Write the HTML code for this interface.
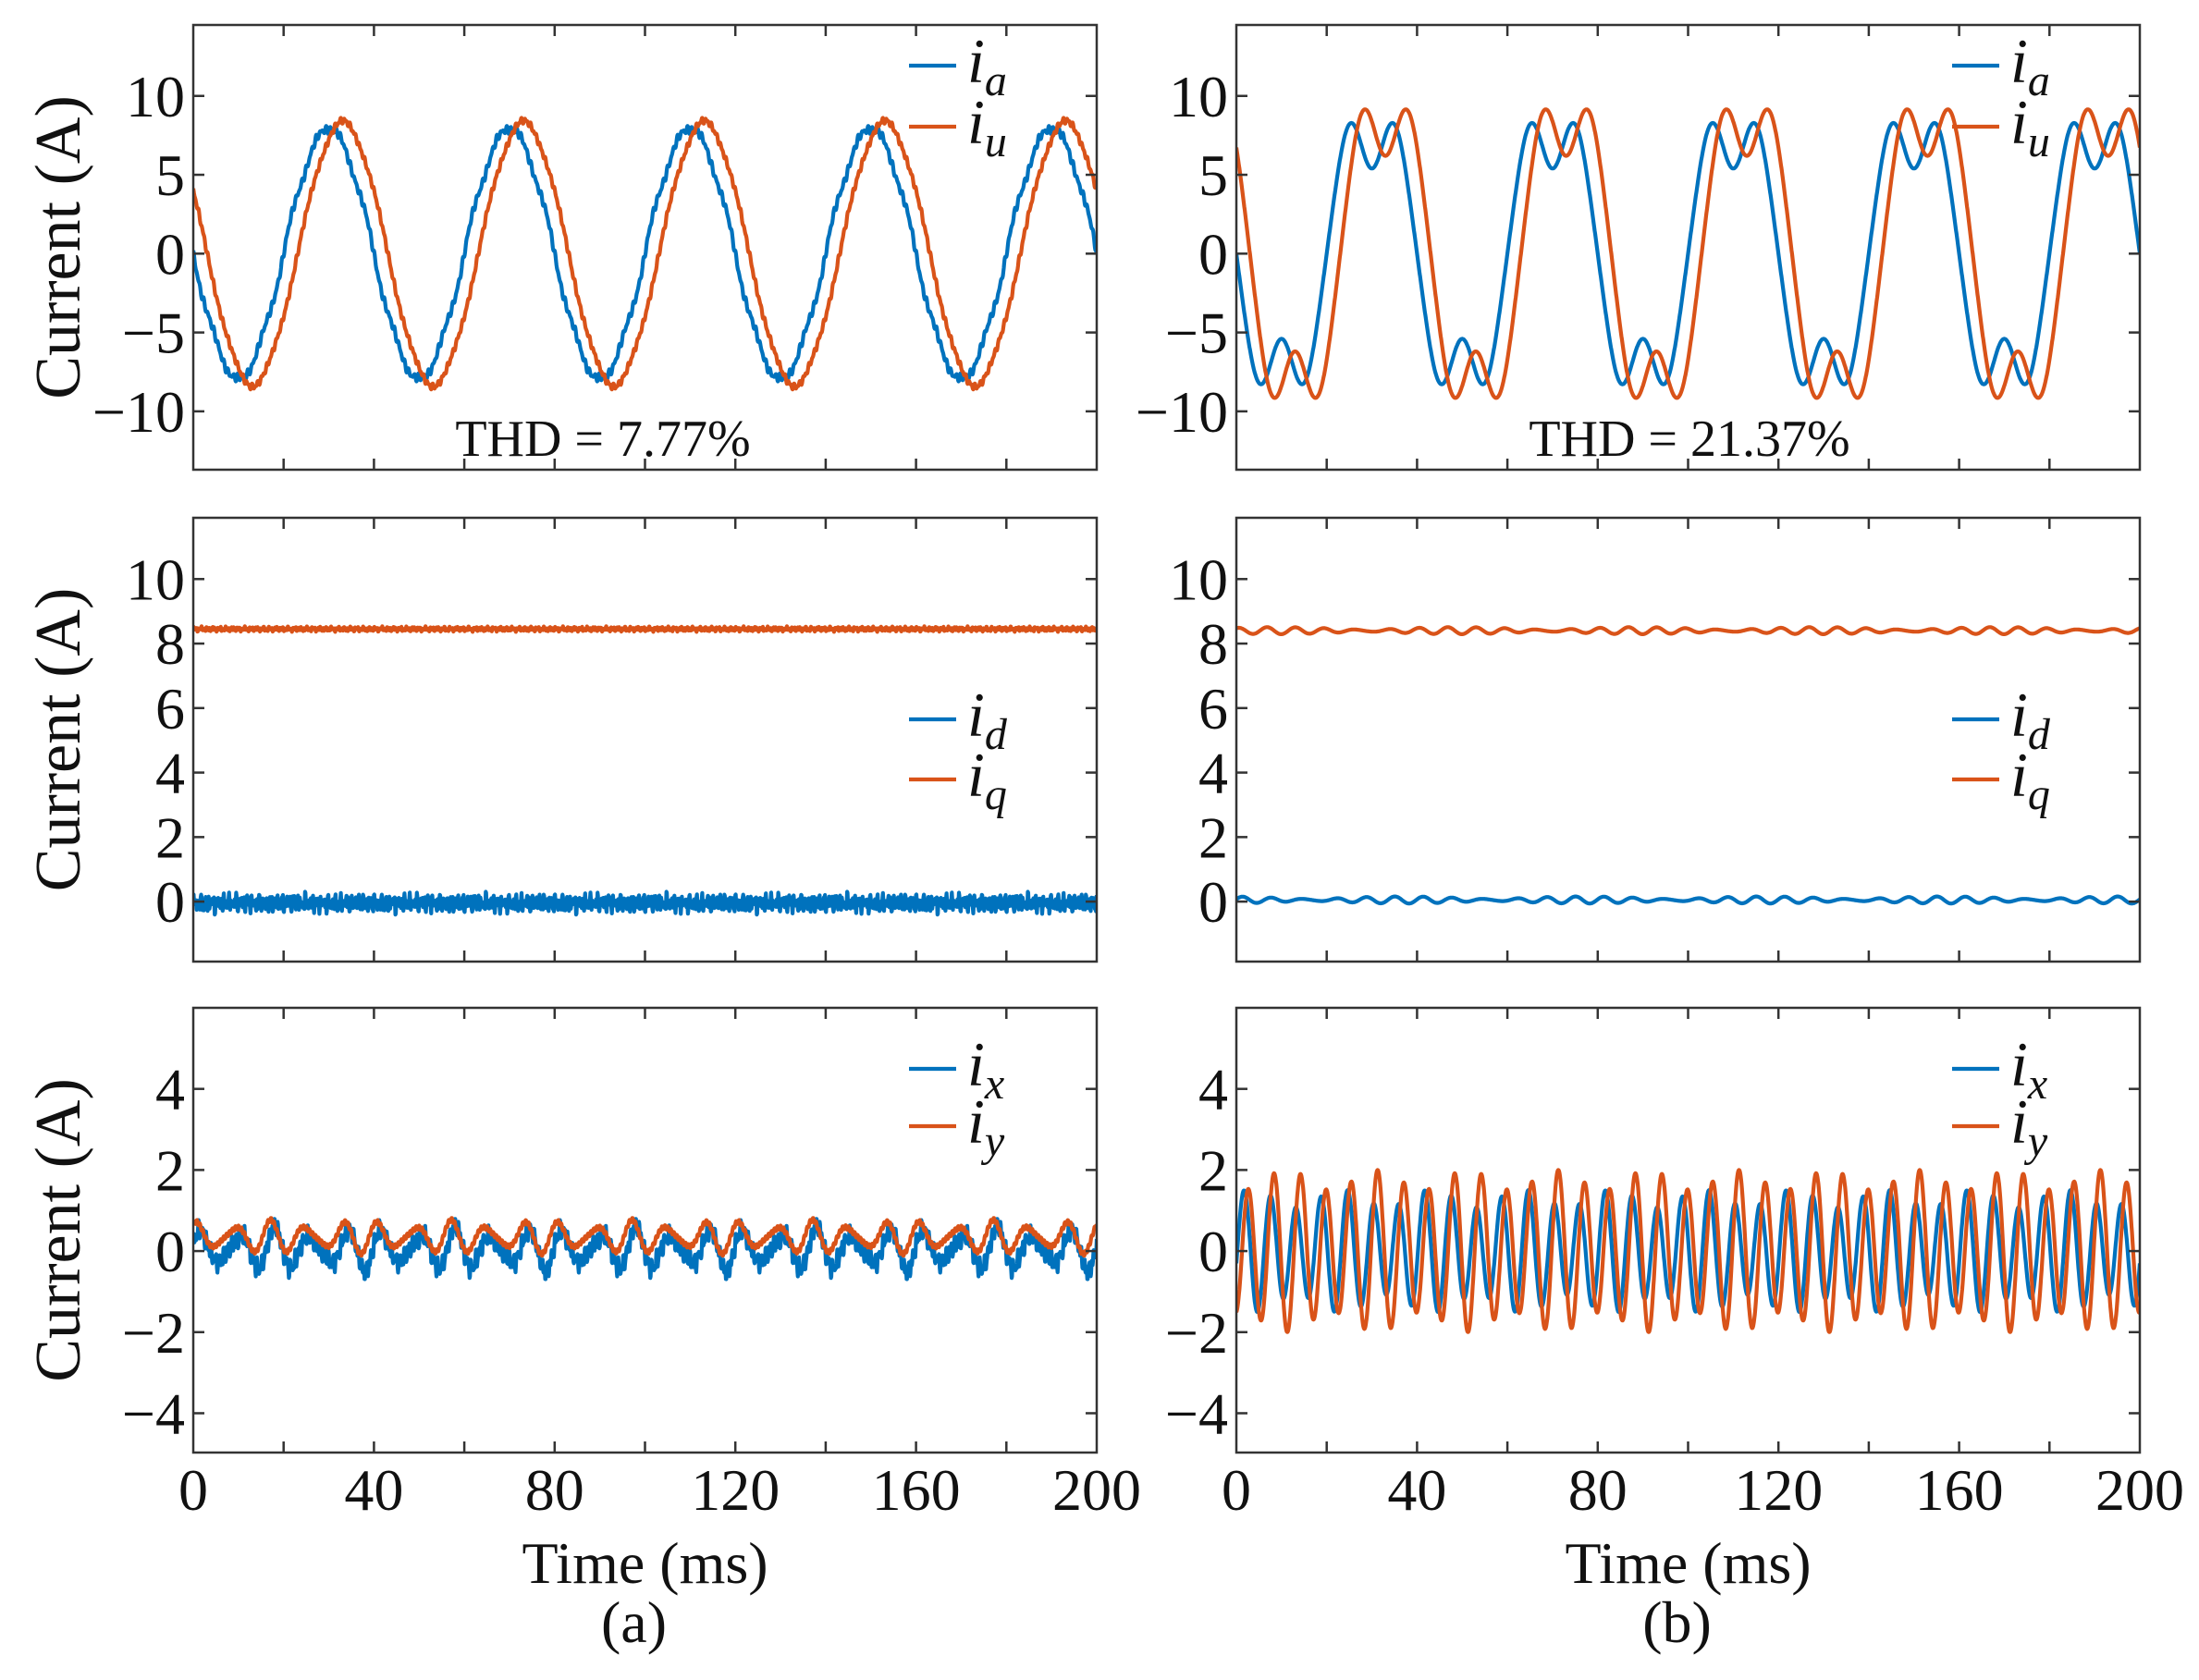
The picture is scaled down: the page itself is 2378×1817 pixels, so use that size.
<!DOCTYPE html>
<html><head><meta charset="utf-8"><style>
html,body{margin:0;padding:0;background:#fff;}
svg{display:block;font-family:"Liberation Serif",serif;}
</style></head><body>
<svg id="fig" width="2378" height="1817" viewBox="0 0 2378 1817" xmlns="http://www.w3.org/2000/svg"></svg>
<script>
// ---- data (harmonic descriptions; period 40 ms fundamental) ----
const xTicks = [0,40,80,120,160,200];
const yTicksTop = [-10,-5,0,5,10];
const yTicksMid = [0,2,4,6,8,10];
const yTicksBot = [-4,-2,0,2,4];
const thdLabels = ["THD = 7.77%","THD = 21.37%"];
// each series: offset, harmonic orders, amplitudes (A), phases (deg), delay (ms)
const iaA_orders=[1,5,7,37,53], iaA_amps=[7.9,0.15,0.2,0.15,0.12], iaA_ph=[180,180,180,30,80], iaA_off=0, iaA_delay=0;
const iuA_orders=[1,5,37,61], iuA_amps=[8.3,0.15,0.12,0.1], iuA_ph=[180,180,10,50], iuA_off=0, iuA_delay=3.1;
const iaB_orders=[1,3,5], iaB_amps=[8.5,2.6,0.5], iaB_ph=[180,180,0], iaB_off=0, iaB_delay=0;
const iuB_orders=[1,3,5], iuB_amps=[9.5,2.8,0.5], iuB_ph=[180,180,0], iuB_off=0, iuB_delay=3.0;
const idA_orders=[31,47,71,97,131], idA_amps=[0.08,0.09,0.1,0.08,0.07], idA_ph=[0,40,90,20,70], idA_off=-0.05, idA_delay=0;
const iqA_orders=[29,67,113], iqA_amps=[0.03,0.03,0.03], iqA_ph=[0,60,20], iqA_off=8.45, iqA_delay=0;
const idB_orders=[6,7], idB_amps=[0.07,0.04], idB_ph=[0,30], idB_off=0.05, idB_delay=0;
const iqB_orders=[6,7], iqB_amps=[0.07,0.04], iqB_ph=[90,10], iqB_off=8.4, iqB_delay=0;
const ixA_orders=[5,7,43,71,103], ixA_amps=[0.4,0.15,0.12,0.1,0.08], ixA_ph=[0,40,10,70,30], ixA_off=0.05, ixA_delay=0;
const iyA_orders=[5,7,61], iyA_amps=[0.3,0.12,0.05], iyA_ph=[40,90,0], iyA_off=0.35, iyA_delay=0;
const ixB_orders=[7,5], ixB_amps=[1.3,0.22], ixB_ph=[-20,40], ixB_off=0, ixB_delay=0;
const iyB_orders=[7,5], iyB_amps=[1.75,0.25], iyB_ph=[-80,120], iyB_off=0, iyB_delay=0;

const BLUE="#0072BD", ORANGE="#D95319";
const NS="http://www.w3.org/2000/svg";
const svg=document.getElementById('fig');
function mk(tag,attrs,parent){const e=document.createElementNS(NS,tag);for(const k in attrs)e.setAttribute(k,attrs[k]);(parent||svg).appendChild(e);return e;}

const cols=[{x0:209,x1:1186},{x0:1337,x1:2314}];
const rows=[{y0:27,y1:508,ymin:-13.7,ymax:14.5,ticks:yTicksTop,leg:[44,110]},
            {y0:560,y1:1040,ymin:-1.86,ymax:11.9,ticks:yTicksMid,leg:[218,283]},
            {y0:1090,y1:1571,ymin:-4.97,ymax:6.0,ticks:yTicksBot,leg:[66,128]}];
const seriesSets=[
 [[iaA_orders,iaA_amps,iaA_ph,iaA_off,iaA_delay],[iuA_orders,iuA_amps,iuA_ph,iuA_off,iuA_delay],["a","u"]],
 [[idA_orders,idA_amps,idA_ph,idA_off,idA_delay],[iqA_orders,iqA_amps,iqA_ph,iqA_off,iqA_delay],["d","q"]],
 [[ixA_orders,ixA_amps,ixA_ph,ixA_off,ixA_delay],[iyA_orders,iyA_amps,iyA_ph,iyA_off,iyA_delay],["x","y"]]];
const seriesSetsB=[
 [[iaB_orders,iaB_amps,iaB_ph,iaB_off,iaB_delay],[iuB_orders,iuB_amps,iuB_ph,iuB_off,iuB_delay],["a","u"]],
 [[idB_orders,idB_amps,idB_ph,idB_off,idB_delay],[iqB_orders,iqB_amps,iqB_ph,iqB_off,iqB_delay],["d","q"]],
 [[ixB_orders,ixB_amps,ixB_ph,ixB_off,ixB_delay],[iyB_orders,iyB_amps,iyB_ph,iyB_off,iyB_delay],["x","y"]]];

function evalS(s,t){const [o,a,p,off,d]=s;let v=off;const tt=t-d;
 for(let i=0;i<o.length;i++)v+=a[i]*Math.sin(2*Math.PI*o[i]*tt/40+p[i]*Math.PI/180);return v;}

cols.forEach((c,ci)=>{
 rows.forEach((r,ri)=>{
  const g=mk('g',{});
  
  
  const xs=t=>c.x0+(t/200)*(c.x1-c.x0);
  const ys=v=>r.y1-(v-r.ymin)/(r.ymax-r.ymin)*(r.y1-r.y0);
  const clip='clip'+ci+ri;
  const cp=mk('clipPath',{id:clip},g);mk('rect',{x:c.x0,y:r.y0,width:c.x1-c.x0,height:r.y1-r.y0},cp);
  const set=(ci?seriesSetsB:seriesSets)[ri];
  [set[0],set[1]].forEach((s,si)=>{
   let d='';const N=2400;
   for(let i=0;i<=N;i++){const t=200*i/N;d+=(i?'L':'M')+xs(t).toFixed(1)+' '+ys(evalS(s,t)).toFixed(1);}
   const p=mk('path',{d:d,fill:'none',stroke:si?ORANGE:BLUE,'stroke-width':4.2,'stroke-linejoin':'round','clip-path':'url(#'+clip+')'},g);
   
   
  });
  const box=mk('rect',{x:c.x0,y:r.y0,width:c.x1-c.x0,height:r.y1-r.y0,fill:'none',stroke:'#333','stroke-width':2.5},g);
  
  
  for(let t=20;t<200;t+=20){
   mk('line',{x1:xs(t),x2:xs(t),y1:r.y1,y2:r.y1-12,stroke:'#333','stroke-width':2.5},g);
   mk('line',{x1:xs(t),x2:xs(t),y1:r.y0,y2:r.y0+12,stroke:'#333','stroke-width':2.5},g);
  }
  r.ticks.forEach(v=>{
   mk('line',{x1:c.x0,x2:c.x0+12,y1:ys(v),y2:ys(v),stroke:'#333','stroke-width':2.5},g);
   mk('line',{x1:c.x1,x2:c.x1-12,y1:ys(v),y2:ys(v),stroke:'#333','stroke-width':2.5},g);
   const tl=mk('text',{x:c.x0-9,y:ys(v)+22,'font-size':64,'text-anchor':'end',fill:'#111'},g);
   tl.textContent=(v<0?'\u2212'+(-v):String(v));
   
   
  });
  if(ci===0){
   const yt=mk('text',{x:0,y:0,'font-size':70,'text-anchor':'middle',fill:'#111',transform:'translate(86,'+((r.y0+r.y1)/2)+') rotate(-90)'},g);
   yt.textContent='Current (A)';
   
   
  }
  set[2].forEach((sub,si)=>{
   const yy=r.y0+r.leg[si];
   const lg=mk('g',{},g);
   
   
   mk('line',{x1:c.x0+774,x2:c.x0+825,y1:yy,y2:yy,stroke:si?ORANGE:BLUE,'stroke-width':4.2},lg);
   const tx=mk('text',{x:c.x0+837,y:yy+18,'font-size':68,'font-style':'italic',fill:'#111'},lg);
   tx.appendChild(document.createTextNode('i'));
   const ts=mk('tspan',{'font-size':48,dy:14},tx);ts.textContent=sub;
  });
  if(ri===0){
   const th=mk('text',{x:(ci?1827:652),y:493,'font-size':56,'text-anchor':'middle',fill:'#111'},g);
   th.textContent=thdLabels[ci];
   
   
  }
  if(ri===2){
   xTicks.forEach(t=>{
    const xl=mk('text',{x:xs(t),y:1633,'font-size':64,'text-anchor':'middle',fill:'#111'},g);
    xl.textContent=String(t);
    
    
   });
   const xt=mk('text',{x:(c.x0+c.x1)/2,y:1712,'font-size':64,'text-anchor':'middle',fill:'#111'},g);
   xt.textContent='Time (ms)';
   
   
   const cap=mk('text',{x:(c.x0+c.x1)/2-12,y:1776,'font-size':64,'text-anchor':'middle',fill:'#111'},g);
   cap.textContent=ci?'(b)':'(a)';
   
   
  }
 });
});
</script>
</body></html>
